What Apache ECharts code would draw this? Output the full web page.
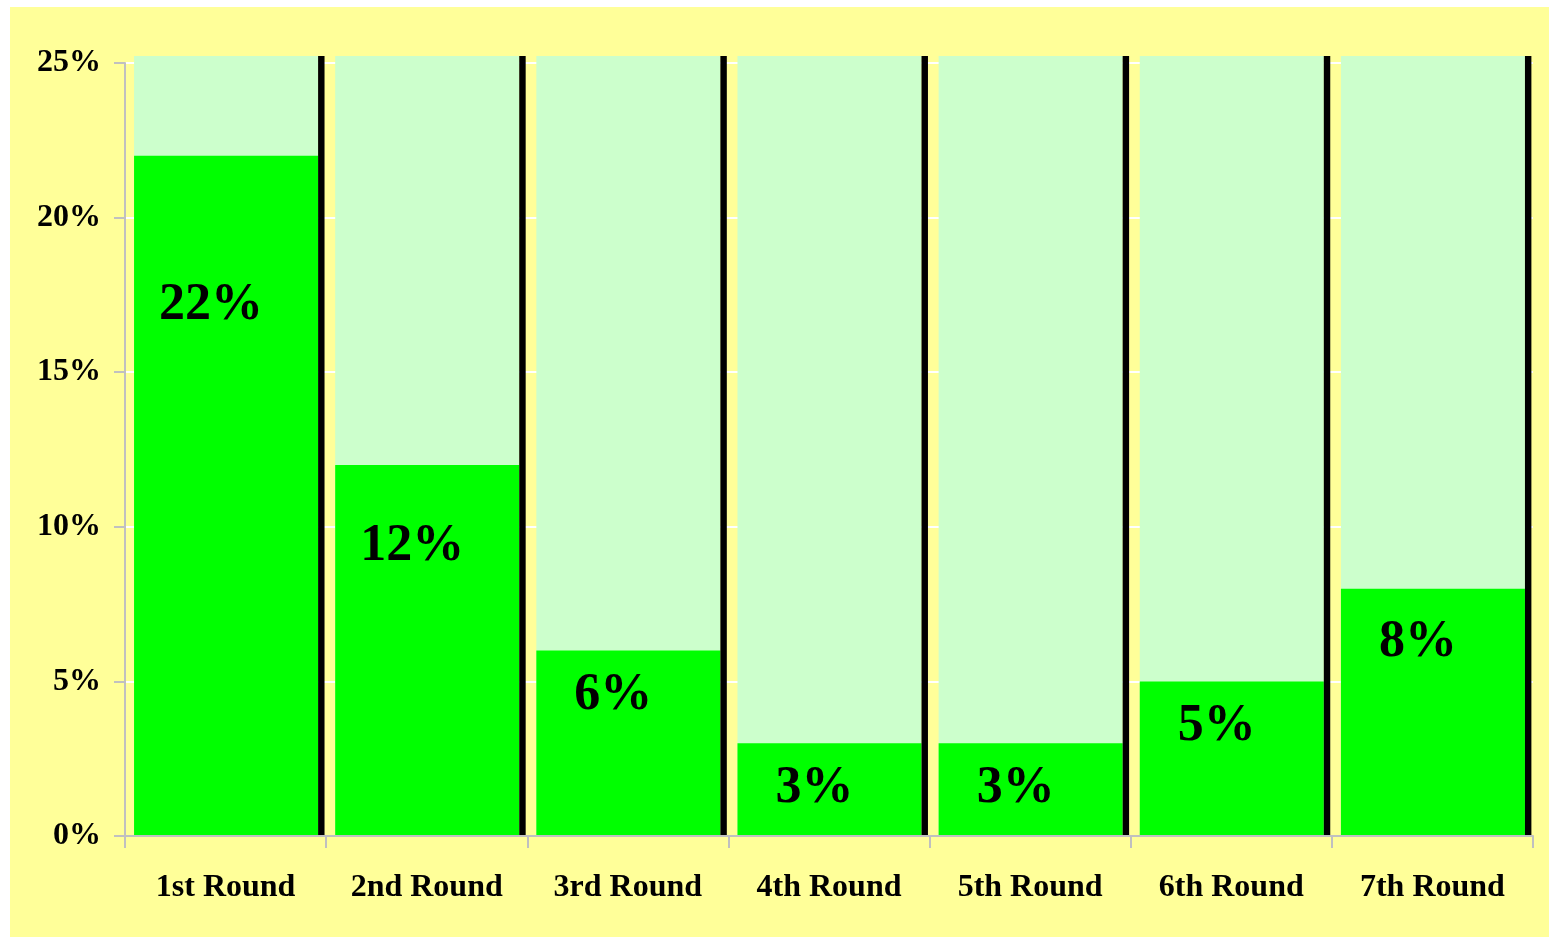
<!DOCTYPE html>
<html lang="en">
<head>
    <meta charset="UTF-8">
    <title>Draft Round Share</title>
    <script src="https://cdn.jsdelivr.net/npm/echarts@6.0.0/dist/echarts.min.js"></script>
    <style>
        html, body { margin: 0; padding: 0; background: #ffffff; }
        #chart { position: absolute; left: 10px; top: 7px; width: 1539px; height: 930px; background: #FFFF99; }
    </style>
</head>
<body>
    <div id="chart"></div>
    <script type="text/javascript">
    // data
    var rounds = ['1st Round', '2nd Round', '3rd Round', '4th Round', '5th Round', '6th Round', '7th Round'];
    var shares = [22, 12, 6, 3, 3, 5, 8];
    var yTicks = { min: 0, max: 25, step: 5 };

    var serif = "'Liberation Serif', 'Times New Roman', serif";
    var chart = echarts.init(document.getElementById('chart'));

    // each column: pale full-height back, green value part, black side edge, big label
    function renderColumn(params, api) {
        var idx = api.value(0);
        var val = api.value(1);
        var center = api.coord([idx, 0]);
        var band = api.size([1, 0])[0];
        var base = center[1];
        var left = center[0] - band / 2 + band * 0.045;
        var frontW = band * 0.915;
        var sideW = band * 0.032;
        var top = api.coord([idx, yTicks.max])[1] - 7;
        var valTop = api.coord([idx, val])[1];
        var h = base - valTop;
        var labelY = valTop + Math.max(h * 0.22, 45);
        return {
            type: 'group',
            children: [
                { type: 'rect', shape: { x: left, y: top, width: frontW, height: base - top }, style: { fill: '#CCFFCC' } },
                { type: 'rect', shape: { x: left, y: valTop, width: frontW, height: h }, style: { fill: '#00FF00' } },
                { type: 'rect', shape: { x: left + frontW, y: top, width: sideW, height: base - top }, style: { fill: '#000000' } },
                { type: 'text', style: {
                    text: val + '%', x: left + frontW / 2 - 15, y: labelY,
                    align: 'center', verticalAlign: 'middle',
                    font: 'bold 52px ' + serif, fill: '#000000'
                } }
            ]
        };
    }

    var option = {
        animation: false,
        grid: { left: 115, right: 16, top: 56, bottom: 101 },
        xAxis: {
            type: 'category',
            data: rounds,
            z: 5,
            axisLine: { show: true, lineStyle: { color: '#C0C0C0', width: 2 } },
            axisTick: { show: true, length: 12, lineStyle: { color: '#C0C0C0', width: 2 } },
            axisLabel: { margin: 36, color: '#000000', fontFamily: serif, fontWeight: 'bold', fontSize: 32 }
        },
        yAxis: {
            type: 'value',
            min: yTicks.min,
            max: yTicks.max,
            interval: yTicks.step,
            axisLine: { show: true, lineStyle: { color: '#C0C0C0', width: 2 } },
            axisTick: { show: true, length: 11, lineStyle: { color: '#C0C0C0', width: 2 } },
            splitLine: { show: true, lineStyle: { color: '#FFFFFF', width: 2 } },
            axisLabel: { margin: 24, formatter: '{value}%', color: '#000000', fontFamily: serif, fontWeight: 'bold', fontSize: 32 }
        },
        series: [
            {
                type: 'custom',
                renderItem: renderColumn,
                clip: false,
                z: 3,
                data: shares.map(function (v, i) { return [i, v]; })
            }
        ]
    };
    chart.setOption(option);
    </script>
</body>
</html>
